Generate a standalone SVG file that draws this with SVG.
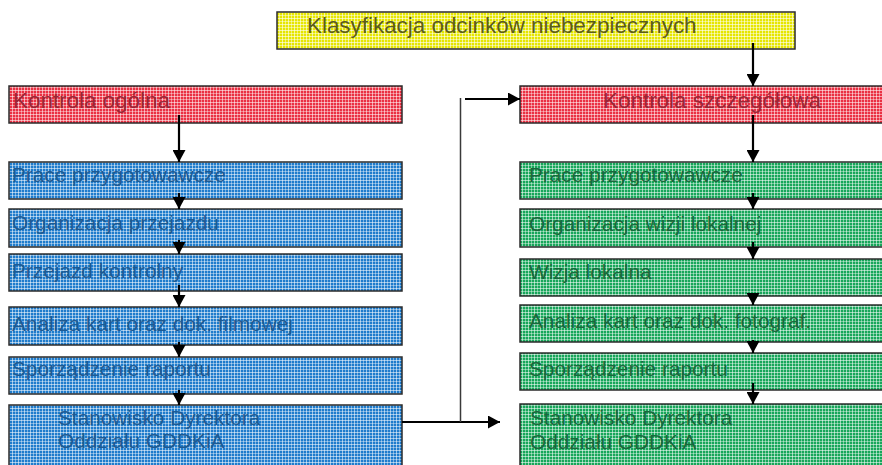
<svg xmlns="http://www.w3.org/2000/svg" width="882" height="465" viewBox="0 0 882 465">
<defs>
<pattern id="pBlue" width="6" height="6" patternUnits="userSpaceOnUse">
<rect width="6" height="6" fill="#1f7ccc"/>
<rect x="0" y="0" width="1" height="6" fill="#ffffff" fill-opacity="0.55"/>
<rect x="3" y="0" width="1" height="6" fill="#ffffff" fill-opacity="0.4"/>
<rect x="0" y="0" width="6" height="1" fill="#ffffff" fill-opacity="0.55"/>
<rect x="0" y="3" width="6" height="1" fill="#ffffff" fill-opacity="0.4"/>
</pattern>
<pattern id="pRed" width="6" height="6" patternUnits="userSpaceOnUse">
<rect width="6" height="6" fill="#ea3043"/>
<rect x="0" y="0" width="1" height="6" fill="#ffffff" fill-opacity="0.55"/>
<rect x="3" y="0" width="1" height="6" fill="#ffffff" fill-opacity="0.4"/>
<rect x="0" y="0" width="6" height="1" fill="#ffffff" fill-opacity="0.55"/>
<rect x="0" y="3" width="6" height="1" fill="#ffffff" fill-opacity="0.4"/>
</pattern>
<pattern id="pGreen" width="6" height="6" patternUnits="userSpaceOnUse">
<rect width="6" height="6" fill="#17a65a"/>
<rect x="0" y="0" width="1" height="6" fill="#ffffff" fill-opacity="0.55"/>
<rect x="3" y="0" width="1" height="6" fill="#ffffff" fill-opacity="0.4"/>
<rect x="0" y="0" width="6" height="1" fill="#ffffff" fill-opacity="0.55"/>
<rect x="0" y="3" width="6" height="1" fill="#ffffff" fill-opacity="0.4"/>
</pattern>
<pattern id="pYellow" width="6" height="6" patternUnits="userSpaceOnUse">
<rect width="6" height="6" fill="#e6e600"/>
<rect x="0" y="0" width="1" height="6" fill="#ffffff" fill-opacity="0.6"/>
<rect x="3" y="0" width="1" height="6" fill="#ffffff" fill-opacity="0.45"/>
<rect x="0" y="0" width="6" height="1" fill="#ffffff" fill-opacity="0.6"/>
<rect x="0" y="3" width="6" height="1" fill="#ffffff" fill-opacity="0.45"/>
</pattern>
<marker id="ah" markerUnits="userSpaceOnUse" markerWidth="13" markerHeight="13" refX="12" refY="6.5" orient="auto">
<path d="M0,0 L12,6.5 L0,13 z" fill="#000"/>
</marker>
</defs>
<style>
.box{stroke:#2b2b2b;stroke-width:1.5}
.blue{fill:url(#pBlue)}
.red{fill:url(#pRed)}
.green{fill:url(#pGreen)}
.yellow{fill:url(#pYellow)}
text{font-family:"Liberation Sans",Arial,sans-serif;font-size:20.8px}
.title{font-size:22.4px}
.tb{fill:#1d5a92}
.tr{fill:#9a2636}
.tg{fill:#19683c}
.ty{fill:#5c5c1c}
.arr{stroke:#000;stroke-width:2.2;fill:none;marker-end:url(#ah)}
.thin{stroke:#3a3a3a;stroke-width:1.5;fill:none}
</style>

<g id="title">
<rect class="box yellow" x="277" y="12" width="518" height="37"/>
<text class="title ty" x="307" y="33">Klasyfikacja odcinków niebezpiecznych</text>
</g>

<g id="kontrola-ogolna">
<rect class="box red" x="9" y="86" width="393" height="37"/>
<text class="title tr" x="13" y="108">Kontrola ogólna</text>
</g>
<g id="l-prace">
<rect class="box blue" x="9" y="162" width="393" height="37"/>
<text class="tb" x="12" y="182">Prace przygotowawcze</text>
</g>
<g id="l-organizacja">
<rect class="box blue" x="9" y="209" width="393" height="38"/>
<text class="tb" x="12" y="230">Organizacja przejazdu</text>
</g>
<g id="l-przejazd">
<rect class="box blue" x="9" y="254" width="393" height="37"/>
<text class="tb" x="12" y="278">Przejazd kontrolny</text>
</g>
<g id="l-analiza">
<rect class="box blue" x="9" y="307" width="393" height="38"/>
<text class="tb" x="12" y="331">Analiza kart oraz dok. filmowej</text>
</g>
<g id="l-sporzadzenie">
<rect class="box blue" x="9" y="357" width="393" height="37"/>
<text class="tb" x="12" y="376">Sporządzenie raportu</text>
</g>
<g id="l-stanowisko">
<rect class="box blue" x="9" y="405" width="393" height="75"/>
<text class="tb" x="58" y="425">Stanowisko Dyrektora</text>
<text class="tb" x="58" y="448">Oddziału GDDKiA</text>
</g>

<g id="kontrola-szczegolowa">
<rect class="box red" x="520" y="86" width="385" height="37"/>
<text class="title tr" x="712" y="108" text-anchor="middle">Kontrola szczegółowa</text>
</g>
<g id="r-prace">
<rect class="box green" x="520" y="162" width="385" height="37"/>
<text class="tg" x="529" y="182">Prace przygotowawcze</text>
</g>
<g id="r-organizacja">
<rect class="box green" x="520" y="209" width="385" height="38"/>
<text class="tg" x="529" y="231">Organizacja wizji lokalnej</text>
</g>
<g id="r-wizja">
<rect class="box green" x="520" y="259" width="385" height="37"/>
<text class="tg" x="529" y="279">Wizja lokalna</text>
</g>
<g id="r-analiza">
<rect class="box green" x="520" y="305" width="385" height="37"/>
<text class="tg" x="529" y="328">Analiza kart oraz dok. fotograf.</text>
</g>
<g id="r-sporzadzenie">
<rect class="box green" x="520" y="353" width="385" height="37"/>
<text class="tg" x="529" y="376">Sporządzenie raportu</text>
</g>
<g id="r-stanowisko">
<rect class="box green" x="520" y="404" width="385" height="76"/>
<text class="tg" x="530" y="425">Stanowisko Dyrektora</text>
<text class="tg" x="530" y="449">Oddziału GDDKiA</text>
</g>

<g id="connectors">
<line class="arr" x1="179" y1="115" x2="179" y2="162"/>
<line class="arr" x1="179" y1="193" x2="179" y2="209"/>
<line class="arr" x1="179" y1="240" x2="179" y2="254"/>
<line class="arr" x1="179" y1="285" x2="179" y2="307"/>
<line class="arr" x1="179" y1="342" x2="179" y2="357"/>
<line class="arr" x1="179" y1="390" x2="179" y2="405"/>

<line class="arr" x1="753" y1="43" x2="753" y2="86"/>
<line class="arr" x1="753" y1="115" x2="753" y2="162"/>
<line class="arr" x1="753" y1="193" x2="753" y2="209"/>
<line class="arr" x1="753" y1="242" x2="753" y2="259"/>
<line class="arr" x1="753" y1="293" x2="753" y2="305"/>
<line class="arr" x1="753" y1="340" x2="753" y2="353"/>
<line class="arr" x1="753" y1="383" x2="753" y2="404"/>

<line class="arr" x1="402" y1="422" x2="500" y2="422"/>
<line class="thin" x1="460.5" y1="422" x2="460.5" y2="98"/>
<line class="arr" x1="465" y1="99" x2="520" y2="99"/>
</g>
</svg>
